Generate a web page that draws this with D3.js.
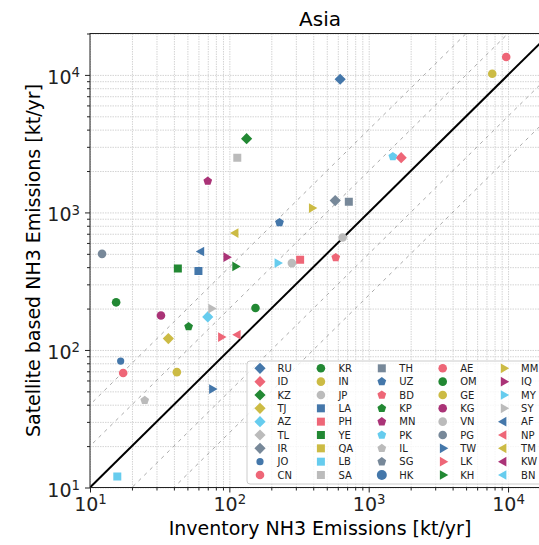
<!DOCTYPE html>
<html lang="en">

<head>
    <meta charset="UTF-8">
    <title>Asia - NH3 Emissions</title>
    <script src="https://d3js.org/d3.v7.min.js"></script>
    <style>
        body {
            margin: 0;
            font-family: "DejaVu Sans", sans-serif;
            background: white;
        }

        #vis {
            display: block;
        }

        .grid line {
            stroke: #d4d4d4;
            stroke-width: 1;
            stroke-dasharray: 1.5, 1;
        }

        .grid path {
            display: none;
        }
    </style>
</head>

<body>
    <svg id="vis"></svg>
    <script>
        const width = 539;
        const height = 545;

        // countries in legend order (column by column)
        const countries = [
            "RU", "ID", "KZ", "TJ", "AZ", "TL", "IR", "JO", "CN",
            "KR", "IN", "JP", "LA", "PH", "YE", "QA", "LB", "SA",
            "TH", "UZ", "BD", "KP", "MN", "PK", "IL", "SG", "HK",
            "AE", "OM", "GE", "KG", "VN", "PG", "TW", "LK", "KH",
            "MM", "IQ", "MY", "SY", "AF", "NP", "TM", "KW", "BN"
        ];

        // inventory emissions [kt/yr], null = not shown in the panel
        const inventory = [
            624, 1710, 133, 36.5, 70, null, 575, 16.6, 9700,
            154, 7700, 281, 60, 322, 42.7, null, 15.7, 114,
            720, 229, 580, 51, 70, 1490, 24.7, null, null,
            17.3, 15.4, 42, 32.3, 650, 12.2, 75, 87, 110,
            390, 95, 221, 74, 63, 115, 111, null, null
        ];

        // satellite based emissions [kt/yr]
        const satellite = [
            9300, 2500, 3440, 121, 174, null, 1220, 83, 13500,
            202, 10200, 428, 375, 453, 391, null, 12, 2500,
            1195, 845, 470, 148, 1690, 2550, 43, null, null,
            68, 222, 69, 178, 658, 500, 52, 124, 405,
            1075, 473, 428, 200, 520, 129, 708, null, null
        ];

        const majorTicks = [10, 100, 1000, 10000];
        const ratioLines = [0.25, 0.5, 2, 4];

        const C = {
            blue: "#4477AA", red: "#EE6677", green: "#228833", yellow: "#CCBB44",
            cyan: "#66CCEE", purple: "#AA3377", lgray: "#BBBBBB", slate: "#778899"
        };

        const styles = {
            RU: ["D", C.blue], ID: ["D", C.red], KZ: ["D", C.green], TJ: ["D", C.yellow],
            AZ: ["D", C.cyan], TL: ["D", C.lgray], IR: ["D", C.slate], JO: ["o_small", C.blue],
            CN: ["o", C.red], KR: ["o", C.green], IN: ["o", C.yellow], JP: ["o", C.lgray],
            LA: ["s", C.blue], PH: ["s", C.red], YE: ["s", C.green], QA: ["s", C.yellow],
            LB: ["s", C.cyan], SA: ["s", C.lgray], TH: ["s", C.slate], UZ: ["p", C.blue],
            BD: ["p", C.red], KP: ["p", C.green], MN: ["p", C.purple], PK: ["p", C.cyan],
            IL: ["p", C.lgray], SG: ["p", C.slate], HK: ["o_big", C.blue], AE: ["o", C.red],
            OM: ["o", C.green], GE: ["o", C.yellow], KG: ["o", C.purple], VN: ["o", C.lgray],
            PG: ["o", C.slate], TW: [">", C.blue], LK: [">", C.red], KH: [">", C.green],
            MM: [">", C.yellow], IQ: [">", C.purple], MY: [">", C.cyan], SY: [">", C.lgray],
            AF: ["<", C.blue], NP: ["<", C.red], TM: ["<", C.yellow], KW: ["<", C.purple],
            BN: ["<", C.cyan]
        };

        function markerPath(m) {
            const p = d3.path();
            if (m === "D") {
                const r = 5.6;
                p.moveTo(0, -r); p.lineTo(r, 0); p.lineTo(0, r); p.lineTo(-r, 0); p.closePath();
            } else if (m === "s") {
                p.rect(-4, -4, 8, 8);
            } else if (m === "p") {
                const r = 4.6;
                for (let i = 0; i < 5; i++) {
                    const a = -Math.PI / 2 + i * 2 * Math.PI / 5;
                    i ? p.lineTo(r * Math.cos(a), r * Math.sin(a)) : p.moveTo(r * Math.cos(a), r * Math.sin(a));
                }
                p.closePath();
            } else if (m === ">" || m === "<") {
                const r = 5.6, s = m === ">" ? 1 : -1;
                p.moveTo(s * r, 0); p.lineTo(-s * r / 2, r * 0.866); p.lineTo(-s * r / 2, -r * 0.866); p.closePath();
            } else {
                const r = m === "o_small" ? 3.6 : m === "o_big" ? 5 : 4.3;
                p.moveTo(r, 0); p.arc(0, 0, r, 0, 2 * Math.PI);
            }
            return p.toString();
        }

        const svg = d3.select("#vis").attr("width", width).attr("height", height);

        const mLeft = 90, mRight = 550, mTop = 33.5, mBottom = 487.5;
        const x = d3.scaleLog().domain([10, 20000]).range([mLeft, mRight]);
        const y = d3.scaleLog().domain([10, 20000]).range([mBottom, mTop]);

        const minorTicks = [];
        [10, 100, 1000, 10000].forEach(d => {
            for (let k = 2; k <= 9; k++) if (d * k <= 20000) minorTicks.push(d * k);
        });
        const allTicks = majorTicks.concat(minorTicks);

        svg.append("defs").append("clipPath").attr("id", "clip")
            .append("rect").attr("x", mLeft).attr("y", mTop)
            .attr("width", mRight - mLeft).attr("height", mBottom - mTop);

        // grid
        svg.append("g").attr("class", "grid")
            .attr("transform", `translate(0,${mBottom})`)
            .call(d3.axisBottom(x).tickValues(allTicks).tickSize(-(mBottom - mTop)).tickFormat(""));
        svg.append("g").attr("class", "grid")
            .attr("transform", `translate(${mLeft},0)`)
            .call(d3.axisLeft(y).tickValues(allTicks).tickSize(-(mRight - mLeft)).tickFormat(""));

        const plot = svg.append("g").attr("clip-path", "url(#clip)");

        // ratio lines
        const lineGen = d3.line().x(d => x(d[0])).y(d => y(d[1]));
        ratioLines.forEach(r => {
            plot.append("path")
                .attr("d", lineGen([[1, r], [100000, 100000 * r]]))
                .attr("fill", "none")
                .attr("stroke", "#aaaaaa")
                .attr("stroke-width", 1)
                .attr("stroke-dasharray", "3.5,4.5");
        });
        plot.append("path")
            .attr("d", lineGen([[1, 1], [100000, 100000]]))
            .attr("fill", "none")
            .attr("stroke", "black")
            .attr("stroke-width", 2);

        // points
        const points = countries.map((c, i) => ({ c, inv: inventory[i], sat: satellite[i] }))
            .filter(d => d.inv != null && d.sat != null);
        plot.selectAll("path.pt")
            .data(points)
            .join("path")
            .attr("class", "pt")
            .attr("transform", d => `translate(${x(d.inv)},${y(d.sat)})`)
            .attr("d", d => markerPath(styles[d.c][0]))
            .attr("fill", d => styles[d.c][1]);

        // spines
        svg.append("rect")
            .attr("x", mLeft).attr("y", mTop)
            .attr("width", mRight - mLeft).attr("height", mBottom - mTop)
            .attr("fill", "none").attr("stroke", "#222").attr("stroke-width", 1);

        // axes
        function supLabels(g) {
            g.selectAll(".tick text").each(function (d) {
                const t = d3.select(this).text("");
                t.append("tspan").text("10");
                t.append("tspan").attr("dy", "-0.5em").attr("font-size", "0.7em").text(Math.round(Math.log10(d)));
            });
        }

        const xAxisG = svg.append("g").attr("transform", `translate(0,${mBottom})`);
        xAxisG.call(d3.axisBottom(x).tickValues(minorTicks).tickSize(3).tickFormat(""));
        xAxisG.append("g").call(d3.axisBottom(x).tickValues(majorTicks).tickSize(5).tickPadding(5))
            .call(supLabels);
        xAxisG.selectAll("path").remove();

        const yAxisG = svg.append("g").attr("transform", `translate(${mLeft},0)`);
        yAxisG.call(d3.axisLeft(y).tickValues(minorTicks).tickSize(3).tickFormat(""));
        yAxisG.append("g").call(d3.axisLeft(y).tickValues(majorTicks).tickSize(5).tickPadding(5))
            .call(supLabels);
        yAxisG.selectAll("path").remove();

        svg.selectAll(".tick line").attr("stroke", "#222");
        svg.selectAll(".grid .tick line").attr("stroke", "#d4d4d4");
        svg.selectAll(".tick text")
            .attr("font-family", "DejaVu Sans")
            .attr("font-size", 19)
            .attr("fill", "#222");
        yAxisG.selectAll(".tick text").attr("dy", "0.45em");

        // legend
        const legend = svg.append("g");
        legend.append("rect")
            .attr("x", 247).attr("y", 361).attr("width", 300).attr("height", 123)
            .attr("rx", 3)
            .attr("fill", "white").attr("fill-opacity", 0.8)
            .attr("stroke", "#cccccc");
        const items = legend.selectAll("g.item")
            .data(countries)
            .join("g")
            .attr("class", "item")
            .attr("transform", (d, i) => `translate(${260 + Math.floor(i / 9) * 60.9},${368.3 + (i % 9) * 13.34})`);
        items.append("path")
            .attr("d", d => markerPath(styles[d][0]))
            .attr("fill", d => styles[d][1]);
        items.append("text")
            .attr("x", 17.5)
            .attr("dy", "0.36em")
            .attr("font-size", 10)
            .attr("fill", "#222")
            .text(d => d);

        // titles
        svg.append("text")
            .attr("x", (mLeft + mRight) / 2).attr("y", 26)
            .attr("text-anchor", "middle")
            .attr("font-size", 20)
            .text("Asia");
        svg.append("text")
            .attr("x", (mLeft + mRight) / 2).attr("y", 535)
            .attr("text-anchor", "middle")
            .attr("font-size", 19)
            .text("Inventory NH3 Emissions [kt/yr]");
        svg.append("text")
            .attr("transform", `translate(40,${(mTop + mBottom) / 2}) rotate(-90)`)
            .attr("text-anchor", "middle")
            .attr("font-size", 19)
            .text("Satellite based NH3 Emissions [kt/yr]");
    </script>
</body>

</html>
